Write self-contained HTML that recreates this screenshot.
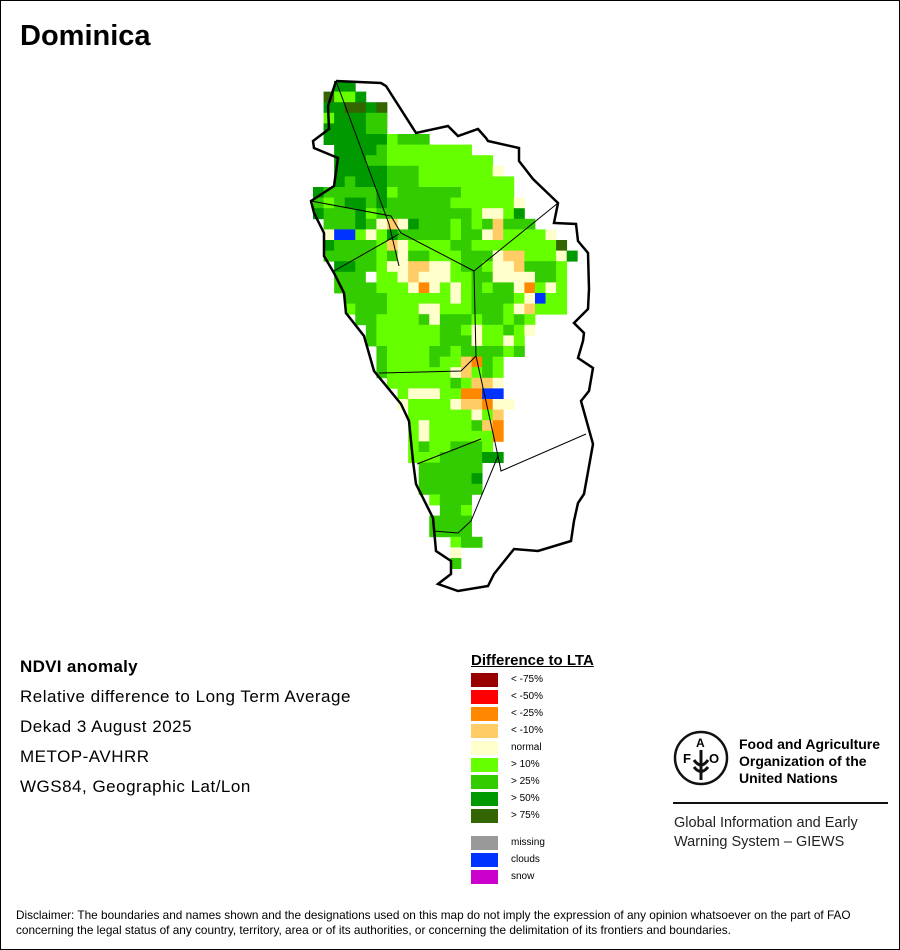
<!DOCTYPE html>
<html><head><meta charset="utf-8">
<style>
html,body{margin:0;padding:0;background:#fff;}
#page{position:relative;width:898px;height:948px;border:1px solid #000;overflow:hidden;font-family:"Liberation Sans",sans-serif;color:#000;}
.t{position:absolute;white-space:nowrap;}
.info{font-size:17px;left:19px;letter-spacing:0.5px;}
.lg{position:absolute;left:470px;width:27px;height:14px;}
.ll{position:absolute;left:510px;font-size:10px;}
</style></head>
<body>
<div id="page">
<div class="t" style="left:19px;top:19px;font-size:29px;font-weight:bold;">Dominica</div>
<svg id="map" width="898" height="620" style="position:absolute;left:0;top:0"></svg>

<div class="t info" style="top:656px;font-weight:bold;letter-spacing:0.3px;">NDVI anomaly</div>
<div class="t info" style="top:686px;">Relative difference to Long Term Average</div>
<div class="t info" style="top:716px;">Dekad 3 August 2025</div>
<div class="t info" style="top:746px;">METOP-AVHRR</div>
<div class="t info" style="top:776px;">WGS84, Geographic Lat/Lon</div>

<div class="t" style="left:470px;top:651px;font-size:15px;font-weight:bold;text-decoration:underline;">Difference to LTA</div>
<div id="legend"></div>

<svg style="position:absolute;left:672px;top:729px" width="60" height="60">
<circle cx="28" cy="28" r="26" fill="none" stroke="#111" stroke-width="2.5"/>
<text x="10" y="33" font-family="Liberation Sans" font-weight="bold" font-size="13">F</text>
<text x="23" y="17" font-family="Liberation Sans" font-weight="bold" font-size="12">A</text>
<text x="36" y="33" font-family="Liberation Sans" font-weight="bold" font-size="13">O</text>
<path d="M28 20 L28 50 M21 30 Q28 40 35 30 M21 37 Q28 46 35 37" stroke="#111" stroke-width="3" fill="none"/>
</svg>
<div class="t" style="left:738px;top:735px;font-size:14px;font-weight:bold;line-height:17px;">Food and Agriculture<br>Organization of the<br>United Nations</div>
<div style="position:absolute;left:672px;top:801px;width:215px;height:2px;background:#111;"></div>
<div class="t" style="left:673px;top:813px;font-size:14.5px;line-height:19px;color:#222;">Global Information and Early<br>Warning System – GIEWS</div>

<div class="t" style="left:15px;top:907px;font-size:11.8px;line-height:15px;">Disclaimer: The boundaries and names shown and the designations used on this map do not imply the expression of any opinion whatsoever on the part of FAO<br>concerning the legal status of any country, territory, area or of its authorities, or concerning the delimitation of its frontiers and boundaries.</div>
</div>
<script>
const legendLabels = ["< -75%","< -50%","< -25%","< -10%","normal","> 10%","> 25%","> 50%","> 75%","missing","clouds","snow"];
const legendCodes = ["r","R","o","y","n","a","b","c","d","m","B","s"];
const gridRows = [
"..cc......................",
".daac.....................",
".ccddcd...................",
".acccbb...................",
".ccccbb...................",
".ccccccabbb...............",
"..ccccbaaaaaaaa...........",
"..cccbbaaaaaaaaaa.........",
"..cccccbbbaaaaaaan........",
"..cbcccbbbaaaaaaaaa.......",
"cbbbbbcabbbbbbaaaaa.......",
"babccbcbbbbbbaaaaaan......",
"cbbbcabbbbbbbbbannac......",
".bbbcbnyncbbbababybbb.....",
".nBBanacbbbbbabbnyaaaan...",
".cbbbbaynaaaabbaaaaaaaad..",
".bbbbbabnbbaaabbbnyyaaanc.",
"..ccbbannyynnabbannybbba..",
"..bbbWaanynnnaabbnnnnbba..",
"..bbbbaaanonanababbnoana..",
"...bbbbaaaaaanabbbbanBaa..",
"...abbbaaannaaabbbanyaaa..",
"....bbaaaabnbbbabbaba.....",
".....baaaaaabbanaaban.....",
".....baaaaaabbbnaana......",
"......baaaabbabbbbab......",
"......baaaabaayoba........",
"......baaaaaanyaba........",
".......aaaaaabayyn........",
"........annnaaooBB........",
"........naaaanyyonn.......",
".........aaaaaanay........",
".........anaaaabyo........",
".........anaaaaaao........",
".........abaabbba.........",
".........aaabbbbcc........",
"..........bbbbbb..........",
"..........bbbbbc..........",
"..........bbbbbb..........",
"...........abbb...........",
"............bba...........",
"...........bbbb...........",
"...........bbbb...........",
".............abb..........",
".............n............",
".............b............"
];
const palette = {r:"#990000",R:"#ff0000",o:"#ff8800",y:"#ffcc66",n:"#ffffcc",a:"#66ff00",b:"#33cc00",c:"#009900",d:"#336600",m:"#999999",B:"#0033ff",s:"#cc00cc",W:"#ffffff"};
const gx0=312, gy0=80, cw=10.57, ch=10.6;
function xPos(c){return gx0+c*cw;}
function yPos(r){return gy0+r*ch;}
const NS="http://www.w3.org/2000/svg";
const svg=document.getElementById('map');
gridRows.forEach((row,r)=>{
  for(let c=0;c<row.length;c++){
    const k=row[c]; if(k==='.') continue;
    const el=document.createElementNS(NS,'rect');
    
    
    el.setAttribute('x',xPos(c).toFixed(2));el.setAttribute('y',yPos(r).toFixed(2));
    el.setAttribute('width',(cw+0.4).toFixed(2));el.setAttribute('height',(ch+0.4).toFixed(2));
    el.setAttribute('fill',palette[k]);
    svg.appendChild(el);
  }
});
const outline="335,80 380,82 385,85 415,132 447,125 457,135 477,128 485,137 487,140 518,147 518,160 532,178 557,202 553,222 575,223 577,240 587,252 588,288 587,308 573,322 583,332 582,340 577,357 592,367 588,390 580,400 592,443 583,493 577,502 573,520 570,540 537,550 513,548 493,573 487,585 457,590 437,583 450,573 450,560 435,550 432,517 415,483 412,460 408,420 400,403 373,370 363,335 345,312 343,292 333,272 323,255 323,232 313,212 310,200 333,185 337,157 313,147 312,140 328,128 327,105 335,80";
const o=document.createElementNS(NS,'polyline');


o.setAttribute('points',outline);o.setAttribute('fill','none');o.setAttribute('stroke','#000');o.setAttribute('stroke-width','2.5');
svg.appendChild(o);
const inner=["335,80 388,223 398,265","310,200 390,215 400,232 473,270 557,202","333,270 398,233","473,270 475,355 460,370 378,372","475,355 497,455 500,470 585,433","497,455 470,520 457,532 432,530","416,463 480,438"];
inner.forEach(p=>{
  const l=document.createElementNS(NS,'polyline');
  
  
  l.setAttribute('points',p);l.setAttribute('fill','none');l.setAttribute('stroke','#000');l.setAttribute('stroke-width','1');
  svg.appendChild(l);
});
const lg=document.getElementById('legend');
const legendTops=[672,689,706,723,740,757,774,791,808,835,852,869];
legendLabels.forEach((lab,i)=>{
  const b=document.createElement('div');
  
  
  b.className='lg';b.style.top=legendTops[i]+'px';b.style.background=palette[legendCodes[i]];
  lg.appendChild(b);
  const t=document.createElement('div');
  
  
  t.className='ll';t.style.top=(legendTops[i]+1)+'px';t.textContent=lab;
  lg.appendChild(t);
});
</script>
</body></html>
